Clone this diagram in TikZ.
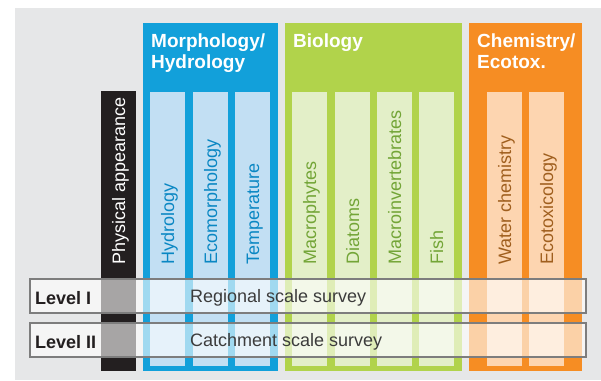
\documentclass[tikz,border=0pt]{standalone}
\usepackage{fontspec}
\setmainfont{Liberation Sans}
\definecolor{bggray}{RGB}{230,231,232}
\definecolor{barblack}{RGB}{35,31,32}
\definecolor{bluepan}{RGB}{18,160,218}
\definecolor{bluecol}{RGB}{194,223,243}
\definecolor{bluetxt}{RGB}{10,135,195}
\definecolor{greenpan}{RGB}{177,211,75}
\definecolor{greencol}{RGB}{227,239,200}
\definecolor{greentxt}{RGB}{115,165,55}
\definecolor{orangepan}{RGB}{246,141,35}
\definecolor{orangecol}{RGB}{253,213,176}
\definecolor{orangetxt}{RGB}{160,95,30}
\definecolor{boxline}{RGB}{125,125,125}
\definecolor{survtxt}{RGB}{60,60,60}
\begin{document}
\begin{tikzpicture}[x=1pt,y=-1pt,
  blockbox/.style={draw=none,inner sep=0pt,outer sep=0pt,anchor=north west},
  colbox/.style={blockbox,minimum width=35,minimum height=274},
  panelbox/.style={blockbox,minimum height=348},
  vtext/.style={rotate=90,anchor=base west,inner sep=0pt,font=\fontsize{18}{21}\selectfont},
  ttext/.style={anchor=base west,inner sep=0pt,align=left,text=white,font=\fontsize{19}{21.5}\selectfont\bfseries},
  levelbox/.style={blockbox,minimum width=556,minimum height=34,fill=white,fill opacity=0.6,draw=boxline,draw opacity=1,line width=1.2pt},
  leveltxt/.style={anchor=base west,inner sep=0pt,text=barblack,font=\fontsize{18}{21}\selectfont\bfseries},
  survtext/.style={anchor=base west,inner sep=0pt,text=survtxt,font=\fontsize{18}{21}\selectfont}
]
\useasboundingbox (0,0) rectangle (601,380);
\node[blockbox,fill=bggray,minimum width=586,minimum height=372] (bg) at (15,8) {};
% black bar
\node[blockbox,fill=barblack,minimum width=35,minimum height=280] (phys) at (101,91) {};
% panels
\node[panelbox,fill=bluepan,minimum width=135] (morph) at (143,23) {};
\node[panelbox,fill=greenpan,minimum width=177] (bio) at (285,23) {};
\node[panelbox,fill=orangepan,minimum width=113] (chem) at (469,23) {};
% columns
\node[colbox,fill=bluecol] (c1) at (150,92) {};
\node[colbox,fill=bluecol] (c2) at (193,92) {};
\node[colbox,fill=bluecol] (c3) at (235,92) {};
\node[colbox,fill=greencol] (c4) at (292,92) {};
\node[colbox,fill=greencol] (c5) at (335,92) {};
\node[colbox,fill=greencol] (c6) at (377,92) {};
\node[colbox,fill=greencol] (c7) at (419,92) {};
\node[colbox,fill=orangecol] (c8) at (487,92) {};
\node[colbox,fill=orangecol] (c9) at (529,92) {};
% titles (base anchor = last line's baseline)
\node[ttext] (tmorph) at (151,68.5) {Morphology/\\Hydrology};
\node[ttext] (tbio) at (293,47) {Biology};
\node[ttext] (tchem) at (477,68.5) {Chemistry/\\Ecotox.};
% vertical texts
\node[vtext,text=white] (tphys) at (125,265) {Physical appearance};
\node[vtext,text=bluetxt] (t1) at (174,265) {Hydrology};
\node[vtext,text=bluetxt] (t2) at (217,265) {Ecomorphology};
\node[vtext,text=bluetxt] (t3) at (259,265) {Temperature};
\node[vtext,text=greentxt] (t4) at (316,265) {Macrophytes};
\node[vtext,text=greentxt] (t5) at (359,265) {Diatoms};
\node[vtext,text=greentxt] (t6) at (401,265) {Macroinvertebrates};
\node[vtext,text=greentxt] (t7) at (443,265) {Fish};
\node[vtext,text=orangetxt] (t8) at (511,265) {Water chemistry};
\node[vtext,text=orangetxt] (t9) at (553,265) {Ecotoxicology};
% level boxes
\node[levelbox] (lev1) at (30,279) {};
\node[levelbox] (lev2) at (30,323) {};
\node[leveltxt] (l1) at (35,304) {Level I};
\node[leveltxt] (l2) at (35,348) {Level II};
\node[survtext] (s1) at (190,302) {Regional scale survey};
\node[survtext] (s2) at (190,346) {Catchment scale survey};
\end{tikzpicture}
\end{document}
